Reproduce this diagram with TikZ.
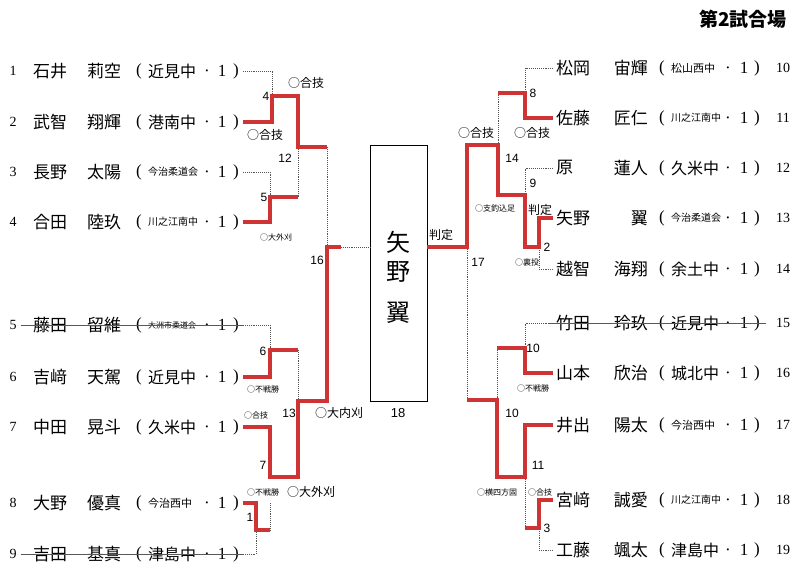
\documentclass[tikz,border=0pt]{standalone}
\usepackage{fontspec}
\setmainfont{Liberation Serif}
\newfontfamily\jp{Noto Sans CJK JP}
\newfontfamily\arial{Liberation Sans}
\definecolor{bracketred}{RGB}{206,52,52}
\definecolor{dotgray}{RGB}{85,85,85}

\begin{document}
\begin{tikzpicture}[x=1pt, y=-1pt,
    rownum/.style={font=\fontsize{14}{14}\selectfont, inner sep=0pt},
    pname/.style={font=\jp\fontsize{17}{17}\selectfont, inner sep=0pt},
    paren/.style={font=\fontsize{17}{17}\selectfont, inner sep=0pt},
    win/.style={draw=bracketred, line width=3.6pt},
    lose/.style={draw=dotgray, densely dotted, line width=0.9pt},
    mno/.style={font=\arial\fontsize{12}{12}\selectfont, inner sep=0pt},
    waza/.style={font=\jp\fontsize{12}{12}\selectfont, inner sep=0pt},
    smallwaza/.style={font=\jp\fontsize{8}{8}\selectfont, inner sep=0pt},
    strike/.style={draw=black!65, line width=0.8pt},
  ]
  \useasboundingbox (0,0) rectangle (808,575);

  \node[font=\jp\bfseries\fontsize{19}{19}\selectfont, inner sep=0pt] (title) at (743,19) {第2試合場};

  % left players
  \foreach \i/\y/\sn/\gn/\sc/\fs in {
      1/71/石井/莉空/近見中/16, 2/122/武智/翔輝/港南中/16,
      3/172/長野/太陽/今治柔道会/10, 4/222/合田/陸玖/川之江南中/10,
      5/325/藤田/留維/大洲市柔道会/8, 6/377/吉﨑/天駕/近見中/16,
      7/427/中田/晃斗/久米中/16, 8/503/大野/優真/今治西中/11,
      9/554/吉田/基真/津島中/16} {
    \node[rownum] (num\i) at (13,\y) {\i};
    \node[pname, anchor=west] (sur\i) at (33,\y) {\sn};
    \node[pname, anchor=west] (giv\i) at (87,\y) {\gn};
    \node[paren] (op\i) at (139,\y) {(};
    \node[pname, font=\jp\fontsize{\fs}{\fs}\selectfont, anchor=west] (sch\i) at (148,\y) {\sc};
    \node[paren, anchor=base] (dot\i) at (207,\y+5.5) {·};
    \node[paren] (gr\i) at (222,\y) {1};
    \node[paren] (cp\i) at (236,\y) {)};
    \coordinate (e\i) at (243,\y);
  }

  % right players
  \foreach \i/\y/\sn/\gn/\sc/\fs in {
      10/68/松岡/宙輝/松山西中/11, 11/118/佐藤/匠仁/川之江南中/10,
      12/168/原/蓮人/久米中/16, 13/218/矢野/翼/今治柔道会/10,
      14/269/越智/海翔/余土中/16, 15/323/竹田/玲玖/近見中/16,
      16/373/山本/欣治/城北中/16, 17/425/井出/陽太/今治西中/11,
      18/500/宮﨑/誠愛/川之江南中/10, 19/550/工藤/颯太/津島中/16} {
    \node[rownum] (num\i) at (783,\y) {\i};
    \node[pname, anchor=west] (sur\i) at (556,\y) {\sn};
    \node[pname, anchor=east] (giv\i) at (648,\y) {\gn};
    \node[paren] (op\i) at (662,\y) {(};
    \node[pname, font=\jp\fontsize{\fs}{\fs}\selectfont, anchor=west] (sch\i) at (671,\y) {\sc};
    \node[paren, anchor=base] (dot\i) at (728,\y+5.5) {·};
    \node[paren] (gr\i) at (744,\y) {1};
    \node[paren] (cp\i) at (757,\y) {)};
    \coordinate (e\i) at (553,\y);
  }

  % withdrawn
  \draw[strike] ([xshift=4pt]num5.east) -- ([xshift=4pt]cp5.east);
  \draw[strike] ([xshift=4pt]num9.east) -- ([xshift=4pt]cp9.east);
  \draw[strike] ([xshift=-8pt]sur15.west) -- ([xshift=6pt]cp15.east);

  % final box
  \node[draw, line width=0.8pt, minimum width=57pt, minimum height=256pt, inner sep=0pt] (champ) at (398.5,273) {};
  \node[pname, font=\jp\fontsize{24}{24}\selectfont] (k1) at (398,242) {矢};
  \node[pname, font=\jp\fontsize{24}{24}\selectfont] (k2) at (398,272) {野};
  \node[pname, font=\jp\fontsize{24}{24}\selectfont] (k3) at (398,313) {翼};
  \coordinate (w16) at (341,247);
  \coordinate (w17) at (467,247);

  % left bracket
  \draw[lose] (e1) -| (272,96);
  \draw[lose] (e3) -| (270,197);
  \draw[lose] (298,147) -- (298,197);
  \draw[lose] (327,147) -- (327,247);
  \draw[lose] (w16) -- (w16 -| champ.west);
  \draw[lose] (e5) -| (270,350);
  \draw[lose] (298,350) -- (298,401);
  \draw[lose] (270,503) -- (270,530);
  \draw[lose] (e9) -| (256,530);
  \draw[win] (e2) -| (272,96) -- (298,96) -- (298,147) -- (327,147);
  \draw[win] (e4) -| (270,197) -- (298,197);
  \draw[win] (e6) -| (270,350) -- (298,350);
  \draw[win] (e8) -| (256,530) -- (270,530);
  \draw[win] (e7) -| (270,477) -- (298,477) -- (298,401) -- (327,401) -- (327,247) -- (w16);

  % right bracket
  \draw[lose] (e10) -| (525,93);
  \draw[lose] (498,93) -- (498,145);
  \draw[lose] (e12) -| (525,195);
  \draw[lose] (e14) -| (539,247);
  \draw[lose] (w17) -- (467,400);
  \draw[lose] (e15) -| (525,348);
  \draw[lose] (497,348) -- (497,400);
  \draw[lose] (525,477) -- (525,528);
  \draw[lose] (e19) -| (539,528);
  \draw[win] (e11) -| (525,93) -- (498,93);
  \draw[win] (e13) -| (539,247) -- (525,247) -- (525,195) -- (498,195) -- (498,145) -- (467,145) -- (w17) -- (w17 -| champ.east);
  \draw[win] (e16) -| (525,348) -- (497,348);
  \draw[win] (e17) -| (525,477) -- (497,477) -- (497,400) -- (467,400);
  \draw[win] (e18) -| (539,528) -- (525,528);

  % match numbers
  \foreach \x/\y/\t [count=\k] in {266/96/4, 285/158/12, 264/197/5, 317/260/16,
      263/351/6, 289/413/13, 263/465/7, 250/517/1, 533/93/8, 512/158/14,
      533/183/9, 547/247/2, 478/262/17, 533/348/10, 512/413/10, 538/465/11, 547/528/3}
    \node[mno] (mn\k) at (\x,\y) {\t};
  \node[mno, font=\arial\fontsize{13}{13}\selectfont] (mn18) at (398,413) {18};

  % techniques
  \foreach \x/\y/\t [count=\k] in {306/83/○合技, 265/135/○合技, 339/413/○大内刈,
      311/492/○大外刈, 476/133/○合技, 532/133/○合技, 540/210/判定, 441/235/判定}
    \node[waza] (wz\k) at (\x,\y) {\t};
  \foreach \x/\y/\t [count=\k] in {276/237/○大外刈, 263/389/○不戦勝, 256/415/○合技,
      263/492/○不戦勝, 495/208/○支釣込足, 527/262/○裏投, 533/388/○不戦勝,
      497/492/○横四方固, 540/492/○合技}
    \node[smallwaza] (sw\k) at (\x,\y) {\t};
\end{tikzpicture}
\end{document}
